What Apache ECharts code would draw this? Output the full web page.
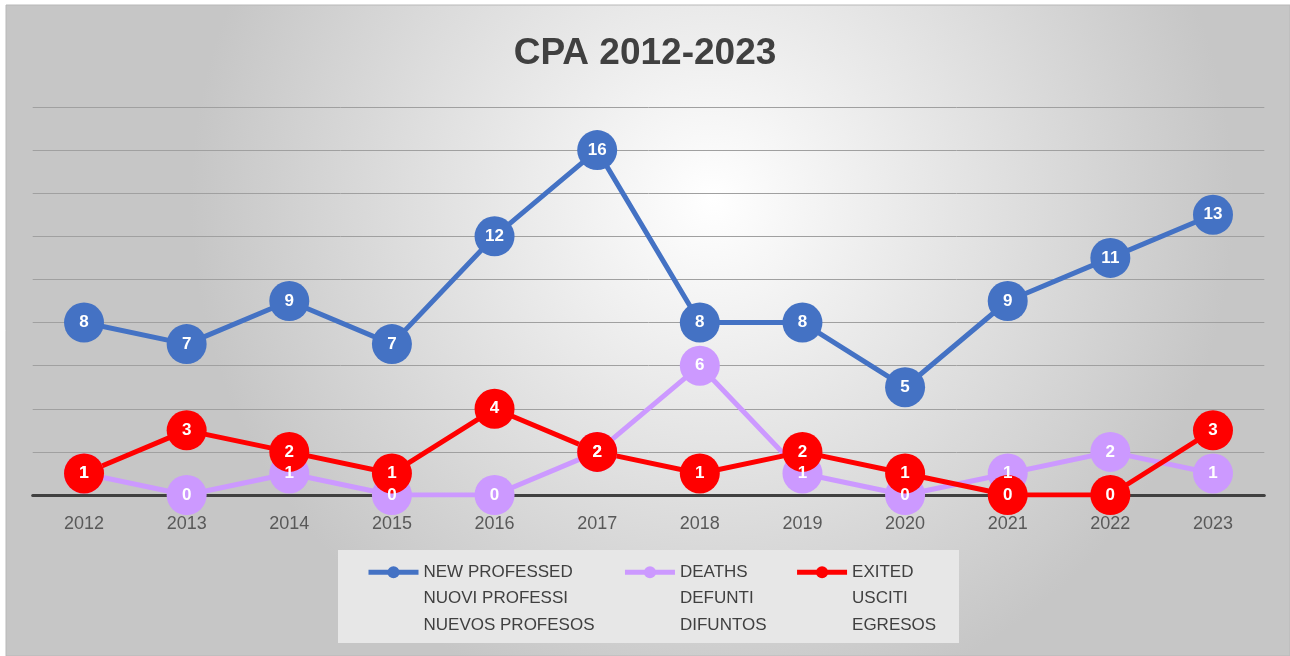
<!DOCTYPE html>
<html>
<head>
<meta charset="utf-8">
<script src="https://cdn.jsdelivr.net/npm/echarts@6/dist/echarts.min.js"></script>
<style>
html,body{margin:0;padding:0;background:#ffffff;}
#chart{width:1290px;height:656px;}
</style>
</head>
<body>
<div id="chart"></div>
<script>
const years = ['2012','2013','2014','2015','2016','2017','2018','2019','2020','2021','2022','2023'];
const newProfessed = [8,7,9,7,12,16,8,8,5,9,11,13];
const deaths = [1,0,1,0,0,2,6,1,0,1,2,1];
const exited = [1,3,2,1,4,2,1,2,1,0,0,3];
const seriesNames = ['NEW PROFESSED\nNUOVI PROFESSI\nNUEVOS PROFESOS','DEATHS\nDEFUNTI\nDIFUNTOS','EXITED\nUSCITI\nEGRESOS'];
const seriesColors = ['#4472C4','#CC99FF','#FF0000'];

const FONT = 'Liberation Sans, Arial, sans-serif';
const chart = echarts.init(document.getElementById('chart'), null, {renderer:'canvas'});

function mkSeries(name, data, color){
  return {
    name: name, type:'line', data: data,
    symbol:'circle', symbolSize:40,
    lineStyle:{color:color, width:5},
    itemStyle:{color:color},
    label:{show:true, position:'inside', color:'#ffffff', fontWeight:'bold', fontSize:17, fontFamily:FONT},
    emphasis:{disabled:true},
    animation:false
  };
}

chart.setOption({
  animation:false,
  graphic:[
    {type:'rect', z:-100, shape:{x:6,y:5,width:1284,height:651},
     style:{fill:{type:'radial',x:0.55,y:0.3,r:0.8,colorStops:[{offset:0,color:'#ffffff'},{offset:1,color:'#c6c6c6'}]},
            stroke:'#b8b8b8', lineWidth:1}},
    {type:'rect', z:-90, shape:{x:338,y:550,width:621,height:93},
     style:{fill:'#e7e7e7'}}
  ],
  title:{
    text:'CPA 2012-2023', left:'center', top:35, padding:0,
    textStyle:{fontSize:37, fontWeight:'bold', color:'#404040', fontFamily:FONT}
  },
  grid:{left:32.7, right:25.7, top:107, bottom:161, containLabel:false},
  xAxis:{
    type:'category', data:years, boundaryGap:true,
    axisLine:{show:true, lineStyle:{color:'#404040', width:3}},
    axisTick:{show:false},
    axisLabel:{color:'#595959', fontSize:18, margin:20, fontFamily:FONT},
    splitLine:{show:false}
  },
  yAxis:{
    type:'value', min:0, max:18, interval:2,
    axisLine:{show:false}, axisTick:{show:false}, axisLabel:{show:false},
    splitLine:{show:true, lineStyle:{color:'#a0a0a0', width:1}}
  },
  legend:{
    left:366, top:506, padding:0, itemGap:28, itemWidth:50, itemHeight:15,
    selectedMode:false,
    data: seriesNames,
    formatter: function(name){ return '\n\n' + name; },
    lineStyle:{width:5},
    textStyle:{color:'#404040', fontSize:17, lineHeight:26.5, fontFamily:FONT}
  },
  series:[
    mkSeries(seriesNames[0], newProfessed, seriesColors[0]),
    mkSeries(seriesNames[1], deaths, seriesColors[1]),
    mkSeries(seriesNames[2], exited, seriesColors[2])
  ]
});
</script>
</body>
</html>
